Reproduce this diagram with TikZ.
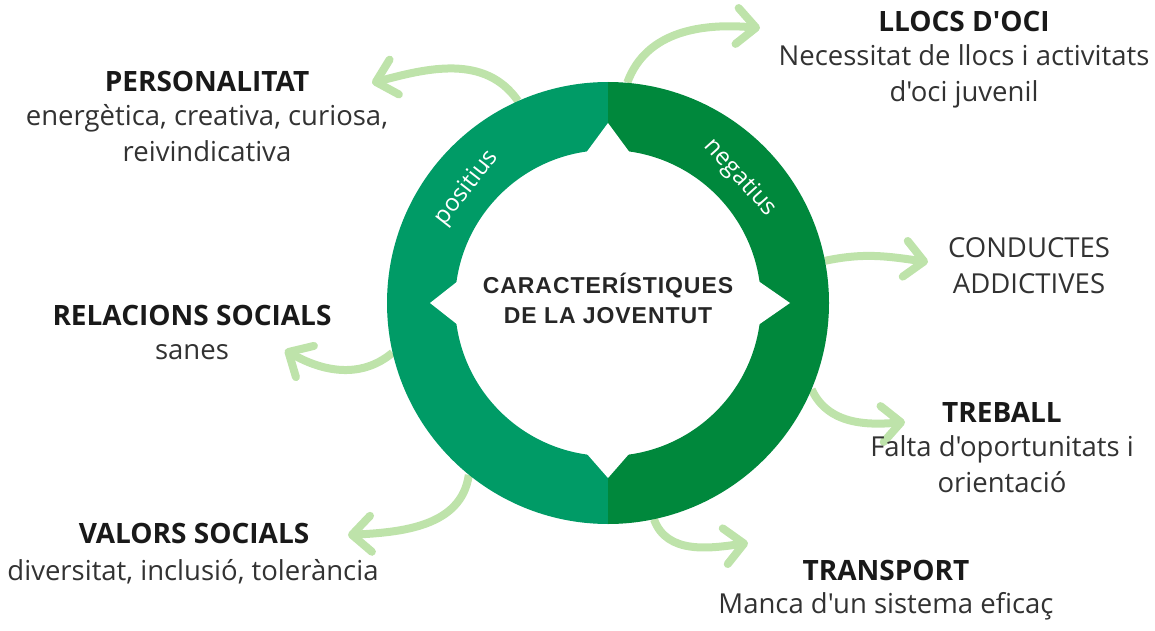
\documentclass[tikz,border=0pt]{standalone}
\usepackage{fontspec}
\setmainfont[Ligatures=TeXOff]{Open Sans}
\newfontfamily\centrefont[LetterSpace=4]{Liberation Sans}
\usetikzlibrary{arrows.meta}
\definecolor{posgreen}{RGB}{0,155,102}
\definecolor{neggreen}{RGB}{0,136,60}
\definecolor{arrowgreen}{RGB}{190,227,170}
\definecolor{textgrey}{RGB}{50,50,50}

\begin{document}
\begin{tikzpicture}[x=1pt,y=1pt,
    head/.style={font=\fontsize{28}{32}\selectfont\bfseries, text=black!90, anchor=base, inner sep=0},
    body/.style={font=\fontsize{27.5}{36}\selectfont, text=textgrey, anchor=base, align=center, inner sep=0},
    side/.style={font=\fontsize{24}{28}\selectfont, text=white, inner sep=0},
    link/.style={arrowgreen, line width=8pt, -{Straight Barb[length=19pt,width=36pt,round]}}]
    \useasboundingbox (0,0) rectangle (1155,630);
    \node[circle, minimum size=442pt, inner sep=0] (ring) at (608,327) {};
    % arrows out of the ring
    \coordinate (tipoci) at (760,602);
    \coordinate (tippers) at (372,547);
    \coordinate (tipcond) at (928,368);
    \coordinate (tiprel) at (285,280);
    \coordinate (tiptreb) at (905,208);
    \coordinate (tipval) at (348,95);
    \coordinate (tiptrans) at (748,87);
    \draw[link] (ring.85) to[out=70,in=175] (tipoci);
    \draw[link] (ring.114) to[out=125,in=15] (tippers);
    \draw[link] (ring.11) to[out=12,in=172] (tipcond);
    \draw[link] (ring.193) to[out=220,in=-30] (tiprel);
    \draw[link] (ring.-23) to[out=-65,in=185] (tiptreb);
    \draw[link] (ring.231.5) to[out=262,in=3] (tipval);
    \draw[link] (ring.-78.5) to[out=-70,in=188] (tiptrans);
    % ring
    \fill[posgreen] (608,548) arc[start angle=90,end angle=270,radius=221]
        -- (608,174) arc[start angle=270,end angle=90,radius=153] -- cycle;
    \fill[neggreen] (608,548) arc[start angle=90,end angle=-90,radius=221]
        -- (608,174) arc[start angle=-90,end angle=90,radius=153] -- cycle;
    \begin{scope}[shift={(608,327)}]
    \foreach \a/\r in {90/180,0/182,180/178,270/175}
        \fill[white] (\a+9:150) -- (\a:\r) -- (\a-9:150) -- cycle;
    \end{scope}
    \node[side, rotate=52] (pos) at (467,442) {positius};
    \node[side, rotate=-48] (neg) at (740,452) {negatius};
    \node[font=\centrefont\fontsize{23}{30}\selectfont\bfseries, text=black!85, align=center, anchor=base, inner sep=0] (title) at (608,307) {CARACTERÍSTIQUES\\DE LA JOVENTUT};
    % labels (base of a two-line node is its last line)
    \node[head] (oci) at (964,598) {LLOCS D'OCI};
    \node[body] (ocitxt) at (964,528) {Necessitat de llocs i activitats\\d'oci juvenil};
    \node[head] (pers) at (207,538) {PERSONALITAT};
    \node[body] (perstxt) at (207,468) {energètica, creativa, curiosa,\\reivindicativa};
    \node[body] (cond) at (1029,337) {CONDUCTES\\ADDICTIVES};
    \node[head] (rel) at (192,305) {RELACIONS SOCIALS};
    \node[body] (reltxt) at (192,271) {sanes};
    \node[head] (treb) at (1002,208) {TREBALL};
    \node[body] (trebtxt) at (1002,138) {Falta d'oportunitats i\\orientació};
    \node[head] (val) at (194,87) {VALORS SOCIALS};
    \node[body] (valtxt) at (193,50) {diversitat, inclusió, tolerància};
    \node[head] (trans) at (886,50) {TRANSPORT};
    \node[body] (transtxt) at (886,17) {Manca d'un sistema eficaç};
\end{tikzpicture}
\end{document}
